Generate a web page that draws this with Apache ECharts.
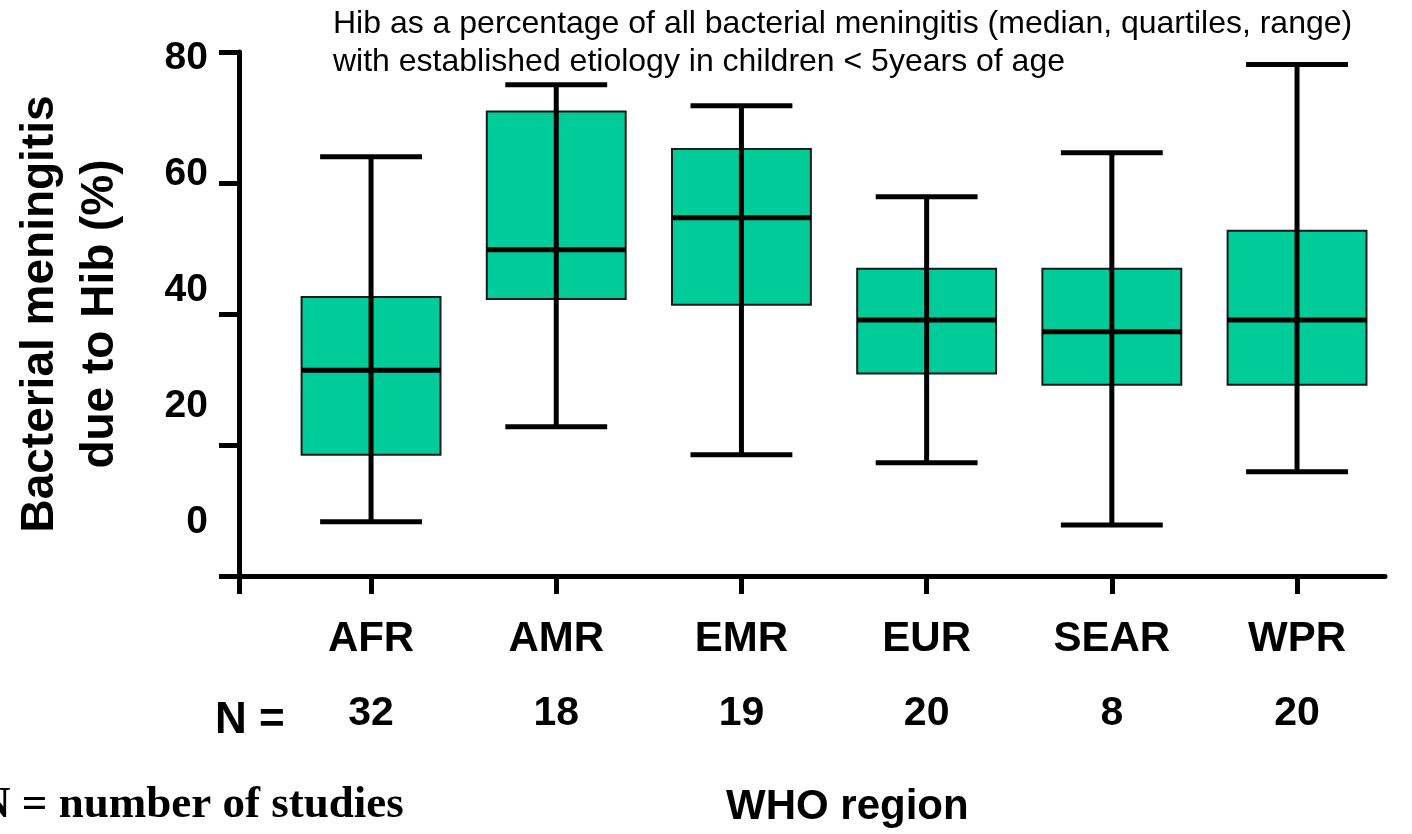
<!DOCTYPE html>
<html>
<head>
<meta charset="utf-8">
<script src="https://cdn.jsdelivr.net/npm/echarts@6/dist/echarts.min.js"></script>
<style>
html,body{margin:0;padding:0;background:#fff;}
#chart{width:1412px;height:834px;}
</style>
</head>
<body>
<div id="chart"></div>
<script>
// ---- data ----
const regions = ['AFR', 'AMR', 'EMR', 'EUR', 'SEAR', 'WPR'];
const nStudies = [32, 18, 19, 20, 8, 20];
const mins    = [8.3, 22.8, 18.5, 17.3, 7.8, 15.9];
const q1s     = [18.5, 42.3, 41.4, 30.9, 29.2, 29.2];
const medians = [31.4, 49.8, 54.7, 39.1, 37.3, 39.1];
const q3s     = [42.6, 70.9, 65.2, 46.9, 46.9, 52.7];
const maxs    = [64.0, 75.0, 71.8, 57.9, 64.6, 78.1];
const yTickLabels = [0, 20, 40, 60, 80];

const positions = regions.map((r, i) => i + 1);
const boxData = regions.map((r, i) => [positions[i], mins[i], q1s[i], medians[i], q3s[i], maxs[i]]);

const FONT = 'Liberation Sans, Arial, Helvetica, sans-serif';
const xMin = 0.287, xMax = 6.475;

const chart = echarts.init(document.getElementById('chart'), null, {renderer: 'canvas'});

function renderBox(params, api) {
  const x = api.value(0);
  const pMin = api.coord([x, api.value(1)]);
  const pQ1 = api.coord([x, api.value(2)]);
  const pMed = api.coord([x, api.value(3)]);
  const pQ3 = api.coord([x, api.value(4)]);
  const pMax = api.coord([x, api.value(5)]);
  const boxW = api.size([0.75, 0])[0];
  const capW = api.size([0.55, 0])[0];
  const cx = pMed[0];
  return {
    type: 'group',
    children: [
      {type: 'rect', shape: {x: cx - boxW / 2, y: pQ3[1], width: boxW, height: pQ1[1] - pQ3[1]},
        style: {fill: '#00CC99', stroke: '#1a1a1a', lineWidth: 2}},
      {type: 'line', shape: {x1: cx, y1: pMax[1], x2: cx, y2: pMin[1]},
        style: {stroke: '#000', lineWidth: 5}},
      {type: 'line', shape: {x1: cx - boxW / 2, y1: pMed[1], x2: cx + boxW / 2, y2: pMed[1]},
        style: {stroke: '#000', lineWidth: 5}},
      {type: 'line', shape: {x1: cx - capW / 2, y1: pMax[1], x2: cx + capW / 2, y2: pMax[1]},
        style: {stroke: '#000', lineWidth: 5}},
      {type: 'line', shape: {x1: cx - capW / 2, y1: pMin[1], x2: cx + capW / 2, y2: pMin[1]},
        style: {stroke: '#000', lineWidth: 5}}
    ]
  };
}

const option = {
  backgroundColor: '#fff',
  animation: false,
  title: {
    text: 'Hib as a percentage of all bacterial meningitis (median, quartiles, range)\nwith established etiology in children < 5years of age',
    left: 328, top: 0,
    textStyle: {fontFamily: FONT, fontWeight: 'normal', fontSize: 32, lineHeight: 38, color: '#000'}
  },
  grid: [
    {left: 239, right: 27, top: 52, bottom: 258, containLabel: false, outerBoundsMode: 'none'},
    {left: 214, width: 10, top: 58, height: 464, containLabel: false, outerBoundsMode: 'none'}
  ],
  xAxis: [
    {
      type: 'value', gridIndex: 0, min: xMin, max: xMax,
      axisLine: {show: true, lineStyle: {color: '#000', width: 5}},
      axisTick: {show: true, length: 18, lineStyle: {color: '#000', width: 5},
        customValues: [xMin].concat(positions)},
      axisLabel: {show: true, customValues: positions, margin: 42,
        formatter: v => regions[Math.round(v) - 1] || '',
        fontFamily: FONT, fontWeight: 'bold', fontSize: 42, lineHeight: 42, color: '#000'},
      splitLine: {show: false}
    },
    {
      type: 'value', gridIndex: 0, min: xMin, max: xMax, position: 'bottom',
      axisLine: {show: false}, axisTick: {show: false},
      axisLabel: {show: true, customValues: positions, margin: 117,
        formatter: v => String(nStudies[Math.round(v) - 1] ?? ''),
        fontFamily: FONT, fontWeight: 'bold', fontSize: 41, lineHeight: 41, color: '#000'},
      splitLine: {show: false}
    },
    {type: 'value', gridIndex: 1, show: false, min: 0, max: 1}
  ],
  yAxis: [
    {
      type: 'value', gridIndex: 0, min: 0, max: 80, interval: 20,
      axisLine: {show: true, lineStyle: {color: '#000', width: 5}},
      axisTick: {show: true, length: 20, lineStyle: {color: '#000', width: 5}},
      axisLabel: {show: false},
      splitLine: {show: false},
      name: 'Bacterial meningitis\ndue to Hib (%)',
      nameLocation: 'middle', nameRotate: 90, nameGap: 109,
      nameTextStyle: {fontFamily: FONT, fontWeight: 'bold', fontSize: 46, lineHeight: 60, color: '#000'}
    },
    {
      type: 'value', gridIndex: 1, min: 0, max: 80, interval: 20,
      axisLine: {show: false}, axisTick: {show: false}, splitLine: {show: false},
      axisLabel: {show: true, margin: 6, customValues: yTickLabels,
        fontFamily: FONT, fontWeight: 'bold', fontSize: 39, color: '#000'}
    }
  ],
  graphic: [
    {type: 'text', left: 215, top: 699, style: {text: 'N =', fontFamily: FONT, fontWeight: 'bold', fontSize: 44, fill: '#000'}},
    {type: 'text', left: -22, top: 783, style: {text: 'N = number of studies', fontFamily: 'Liberation Serif, Times New Roman, serif', fontWeight: 'bold', fontSize: 45, fill: '#000'}},
    {type: 'text', left: 726, top: 786, style: {text: 'WHO region', fontFamily: FONT, fontWeight: 'bold', fontSize: 42, fill: '#000'}}
  ],
  series: [
    {
      type: 'custom', xAxisIndex: 0, yAxisIndex: 0,
      renderItem: renderBox,
      encode: {x: 0, y: [1, 2, 3, 4, 5]},
      data: boxData,
      clip: false
    }
  ]
};
chart.setOption(option);
</script>
</body>
</html>
